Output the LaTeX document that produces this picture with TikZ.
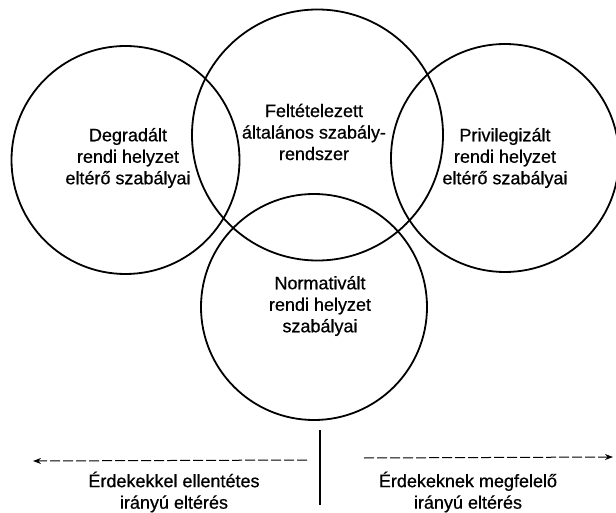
\documentclass[tikz,border=0pt]{standalone}
\usepackage{fontspec}
\setmainfont{Liberation Sans}[FakeBold=0.6]
\usetikzlibrary{arrows.meta}
\begin{document}
\begin{tikzpicture}[x=1pt,y=-1pt,
  ring/.style={draw=black,line width=1.8pt},
  lbl/.style={align=center,font=\fontsize{18}{21.5}\selectfont,inner sep=0pt},
  dirline/.style={line width=1pt,dash pattern=on 10pt off 3pt,-{Stealth[length=8pt,width=6pt]}}]
\useasboundingbox (0,0) rectangle (616,513);
\fill[white] (0,0) rectangle (616,513);
% circles
\draw[ring] (125.5,160) circle[radius=114];
\draw[ring] (505,158) circle[radius=114];
\draw[ring] (317.5,135) circle[radius=125.5];
\draw[ring] (314,307) circle[radius=113];
% labels
\node[lbl] (deg) at (128,158) {Degradált\\rendi helyzet\\eltérő szabályai};
\node[lbl] (felt) at (314,132) {Feltételezett\\általános szabály-\\rendszer};
\node[lbl] (priv) at (505,158) {Privilegizált\\rendi helyzet\\eltérő szabályai};
\node[lbl] (norm) at (320,306) {Normativált\\rendi helyzet\\szabályai};
% bottom axis
\coordinate (vtop) at (320,430);
\coordinate (vbot) at (320,505);
\draw[line width=1.8pt] (vtop) -- (vbot);
\coordinate (lstart) at (307,460);
\coordinate (lend) at (33,461);
\coordinate (rstart) at (364,458);
\coordinate (rend) at (613,457);
\draw[dirline] (lstart) -- (lend);
\draw[dirline] (rstart) -- (rend);
\node[lbl] (lt) at (174,492) {Érdekekkel ellentétes\\irányú eltérés};
\node[lbl] (rt) at (468,492) {Érdekeknek megfelelő\\irányú eltérés};
\end{tikzpicture}
\end{document}
